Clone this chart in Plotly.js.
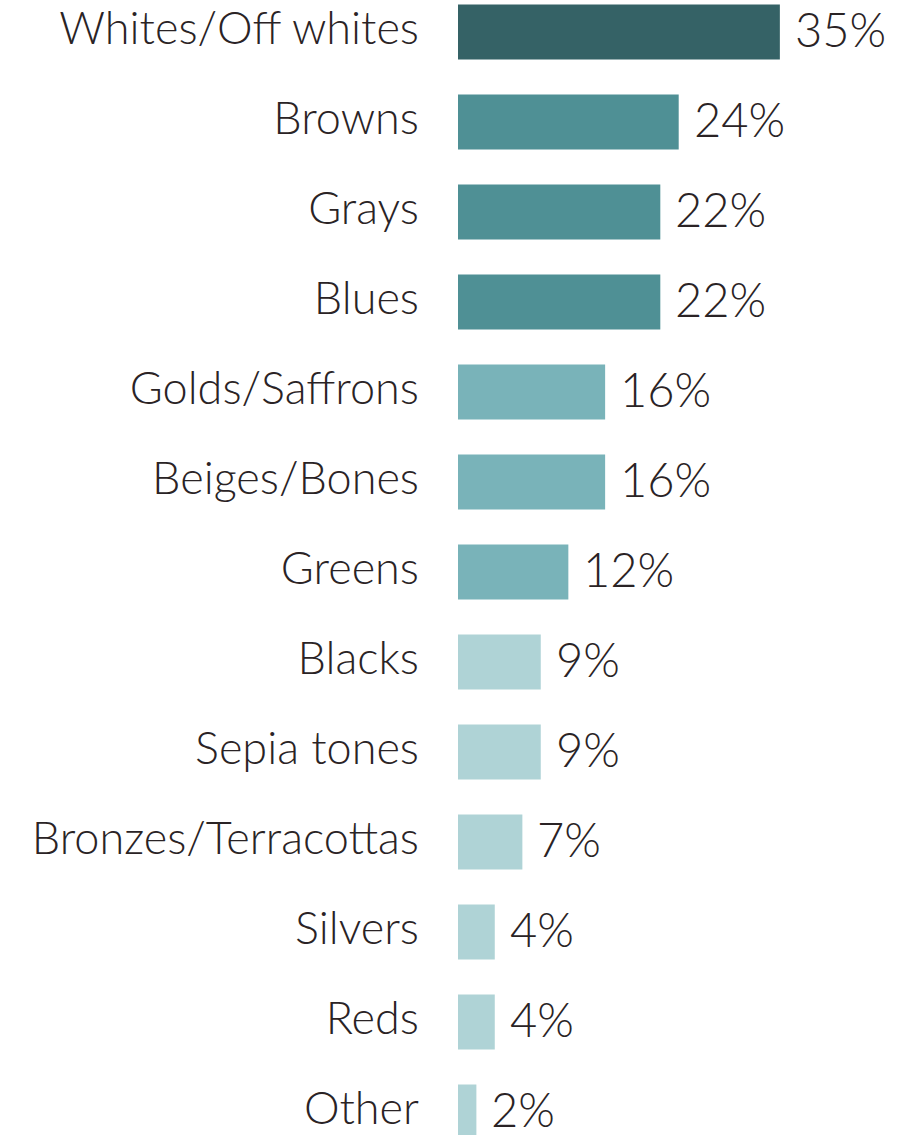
<!DOCTYPE html>
<html>
<head>
<meta charset="utf-8">
<script src="https://cdn.plot.ly/plotly-3.0.1.min.js"></script>
<style>html,body{margin:0;padding:0;background:#fff;}#chart{width:904px;height:1135px;}</style>
</head>
<body>
<div id="chart"></div>
<script>
const categories = ["Whites/Off whites","Browns","Grays","Blues","Golds/Saffrons","Beiges/Bones","Greens","Blacks","Sepia tones","Bronzes/Terracottas","Silvers","Reds","Other"];
const values = [35,24,22,22,16,16,12,9,9,7,4,4,2];
const valueLabels = ["35%","24%","22%","22%","16%","16%","12%","9%","9%","7%","4%","4%","2%"];
const barColors = ["#356266","#4f9095","#4f9095","#4f9095","#79b3b9","#79b3b9","#79b3b9","#afd3d6","#afd3d6","#afd3d6","#afd3d6","#afd3d6","#afd3d6"];

const fontFam = "Lato, 'Open Sans', sans-serif";
const textColor = "#2a2325";

const trace = {
  type: "bar",
  orientation: "h",
  x: values,
  y: categories,
  marker: {color: barColors, line: {width: 0}},
  width: 0.61,
  hoverinfo: "none"
};

const annotations = categories.map((c, i) => ({
  x: values[i], y: c, xref: "x", yref: "y",
  text: valueLabels[i], showarrow: false,
  xanchor: "left", yanchor: "middle", xshift: 13, yshift: 3,
  font: {family: fontFam, size: 47, weight: 300, color: textColor}
}));

const layout = {
  width: 904, height: 1135,
  margin: {l: 458, r: 0, t: 0, b: 0, pad: 0},
  paper_bgcolor: "#fff", plot_bgcolor: "#fff",
  showlegend: false,
  xaxis: {range: [0, 48.5], visible: false, fixedrange: true},
  yaxis: {
    type: "category",
    range: [12.256, -0.356],
    showgrid: false, zeroline: false, showline: false, ticks: "",
    ticklabelstandoff: 38,
    ticklabelshift: 4,
    tickfont: {family: fontFam, size: 45, weight: 300, color: textColor},
    fixedrange: true
  },
  annotations: annotations
};

Plotly.newPlot("chart", [trace], layout, {displayModeBar: false, staticPlot: true});
</script>
</body>
</html>
